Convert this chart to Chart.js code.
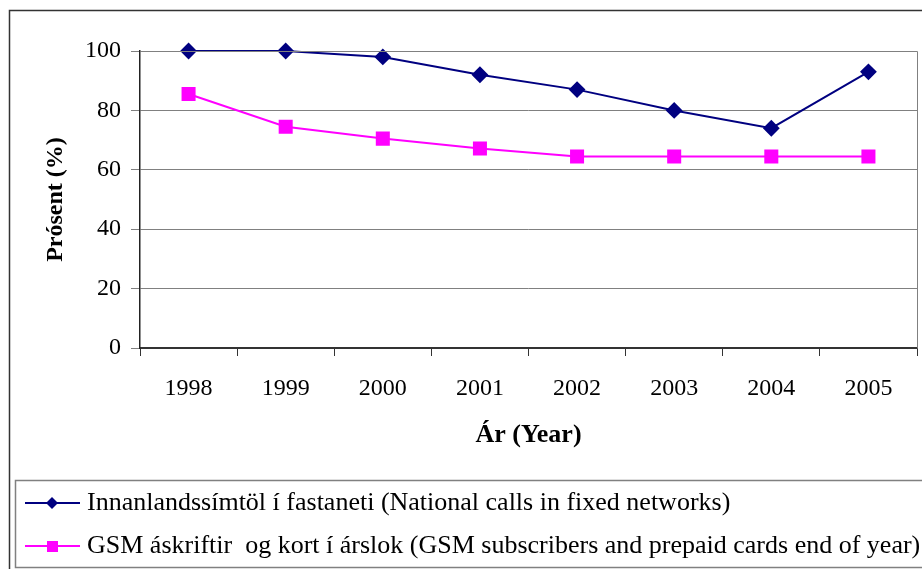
<!DOCTYPE html>
<html>
<head>
<meta charset="utf-8">
<script src="https://cdn.jsdelivr.net/npm/chart.js@4/dist/chart.umd.min.js"></script>
<style>
  html, body { margin: 0; padding: 0; background: #fff; }
  #wrap { width: 922px; height: 569px; }
</style>
</head>
<body>
<div id="wrap"><canvas id="chart" width="922" height="569"></canvas></div>
<script>
const years = ['1998', '1999', '2000', '2001', '2002', '2003', '2004', '2005'];
const nationalCalls = [100, 100, 98, 92, 87, 80, 74, 93];
const gsmSubscribers = [85.5, 74.5, 70.5, 67.2, 64.5, 64.5, 64.5, 64.5];
const seriesLabels = [
    'Innanlandssímtöl í fastaneti (National calls in fixed networks)',
    'GSM áskriftir  og kort í árslok (GSM subscribers and prepaid cards end of year)'
];

const serif = '"Liberation Serif", "Times New Roman", serif';

// frame, plot border and the boxed legend
const framePlugin = {
    id: 'frame',
    afterDraw(chart) {
        const c = chart.ctx;
        const a = chart.chartArea;
        c.save();
        // plot border (top / right)
        c.strokeStyle = '#808080';
        c.lineWidth = 1;
        c.beginPath();
        c.moveTo(Math.round(a.left) + 0.5, Math.round(a.top) + 0.5);
        c.lineTo(Math.round(a.right) + 0.5, Math.round(a.top) + 0.5);
        c.lineTo(Math.round(a.right) + 0.5, Math.round(a.bottom) + 0.5);
        c.stroke();

        // outer chart border
        c.strokeStyle = '#333';
        c.lineWidth = 1.5;
        c.beginPath();
        c.moveTo(9.5, 570);
        c.lineTo(9.5, 10.5);
        c.lineTo(925, 10.5);
        c.stroke();

        // legend box
        c.strokeStyle = '#808080';
        c.lineWidth = 1.5;
        c.strokeRect(15.5, 480.5, 915, 87);

        const rows = [503, 546];
        chart.data.datasets.forEach((ds, i) => {
            const y = rows[i];
            c.strokeStyle = ds.borderColor;
            c.lineWidth = 2;
            c.beginPath();
            c.moveTo(25, y);
            c.lineTo(80, y);
            c.stroke();
            c.fillStyle = ds.backgroundColor;
            c.beginPath();
            if (ds.pointStyle === 'rectRot') {
                c.moveTo(52, y - 6);
                c.lineTo(58, y);
                c.lineTo(52, y + 6);
                c.lineTo(46, y);
            } else {
                c.rect(47, y - 5, 11, 11);
            }
            c.closePath();
            c.fill();

            c.fillStyle = '#000';
            c.font = '26px ' + serif;
            c.textBaseline = 'middle';
            c.fillText(ds.label, 87, y);
        });
        c.restore();
    }
};

const ctx = document.getElementById('chart').getContext('2d');
new Chart(ctx, {
    type: 'line',
    data: {
        labels: years,
        datasets: [
            {
                label: seriesLabels[0],
                data: nationalCalls,
                borderColor: '#000080',
                backgroundColor: '#000080',
                borderWidth: 2,
                pointStyle: 'rectRot',
                pointRadius: 7,
                pointHoverRadius: 7,
                tension: 0,
                clip: false
            },
            {
                label: seriesLabels[1],
                data: gsmSubscribers,
                borderColor: '#FF00FF',
                backgroundColor: '#FF00FF',
                borderWidth: 2,
                pointStyle: 'rect',
                pointRadius: 8.5,
                pointHoverRadius: 8.5,
                tension: 0,
                clip: false
            }
        ]
    },
    options: {
        responsive: false,
        animation: false,
        layout: { autoPadding: false, padding: { left: 9, top: 51, right: 5, bottom: 109 } },
        plugins: {
            legend: { display: false },
            tooltip: { enabled: false }
        },
        scales: {
            x: {
                offset: true,
                afterFit: s => { s.height = 112; },
                grid: {
                    offset: true,
                    drawOnChartArea: false,
                    drawTicks: true,
                    tickLength: 8,
                    color: '#333'
                },
                border: { color: '#333', width: 2 },
                ticks: {
                    color: '#000',
                    padding: 18,
                    maxRotation: 0,
                    font: { family: serif, size: 24 }
                },
                title: {
                    display: true,
                    text: 'Ár (Year)',
                    color: '#000',
                    padding: { top: 0, bottom: 9 },
                    font: { family: serif, size: 26, weight: 'bold' }
                }
            },
            y: {
                min: 0,
                max: 100,
                afterFit: s => { s.width = 131; },
                ticks: {
                    stepSize: 20,
                    color: '#000',
                    padding: 10,
                    font: { family: serif, size: 24 }
                },
                grid: {
                    color: '#808080',
                    lineWidth: 1,
                    tickLength: 9
                },
                border: { color: '#222', width: 1.5 },
                title: {
                    display: true,
                    text: 'Prósent (%)',
                    color: '#000',
                    padding: { top: 32, bottom: 0 },
                    font: { family: serif, size: 24, weight: 'bold' }
                }
            }
        }
    },
    plugins: [framePlugin]
});
</script>
</body>
</html>
